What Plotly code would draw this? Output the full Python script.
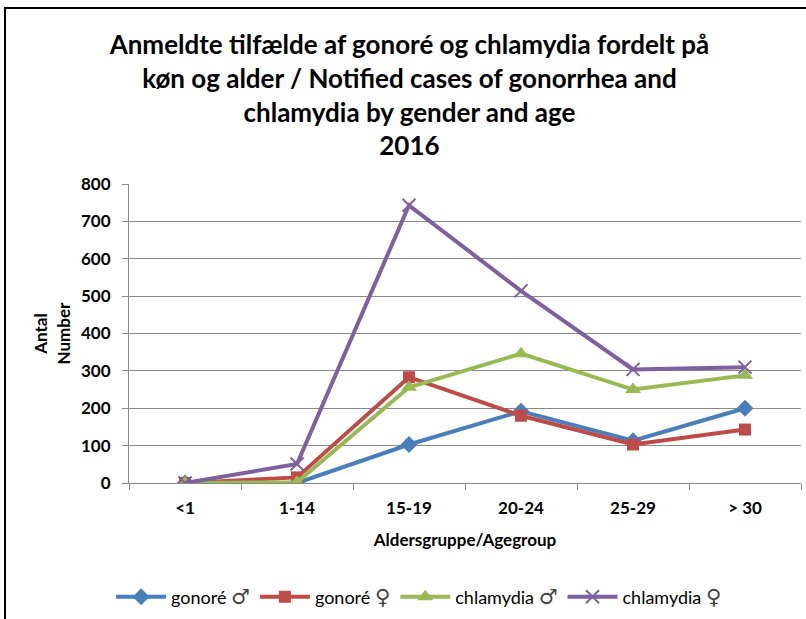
import plotly.graph_objects as go

categories = ["<1", "1-14", "15-19", "20-24", "25-29", "> 30"]
gonore_m = [0, 0, 103, 192, 113, 200]
gonore_f = [0, 15, 283, 180, 103, 143]
chlam_m = [0, 2, 256, 346, 250, 288]
chlam_f = [0, 51, 743, 514, 304, 310]
y_ticks = [0, 100, 200, 300, 400, 500, 600, 700, 800]

SYM = '<span style="font-family:DejaVu Sans;font-size:21px;color:#444">{}</span>'
series = [
    ("gonoré " + SYM.format("♂"), gonore_m, "#4A7EBB", "diamond", 13),
    ("gonoré " + SYM.format("♀"), gonore_f, "#BE4B48", "square", 12),
    ("chlamydia " + SYM.format("♂"), chlam_m, "#98B954", "triangle-up", 14),
    ("chlamydia " + SYM.format("♀"), chlam_f, "#7D60A0", "x-thin", 13),
]

fig = go.Figure()
for name, vals, col, sym, sz in series:
    fig.add_trace(go.Scatter(
        x=categories, y=vals, name=name, mode="lines+markers",
        line=dict(color=col, width=4),
        marker=dict(symbol=sym, size=sz, color=col,
                    line=dict(color=col, width=2 if sym == "x-thin" else 0)),
    ))

W, H = 806, 619
L, R, T, B = 129, 5, 184, 136
pw, ph = W - L - R, H - T - B

def px_to_paper_x(px):
    return (px - L) / pw

def px_to_paper_y(py):
    return (H - B - py) / ph

fig.add_shape(type="rect", xref="paper", yref="paper",
              x0=px_to_paper_x(5), x1=px_to_paper_x(820),
              y0=px_to_paper_y(640), y1=px_to_paper_y(8),
              line=dict(color="black", width=2), layer="below")

fig.update_layout(
    width=W, height=H,
    margin=dict(l=L, r=R, t=T, b=B),
    paper_bgcolor="white", plot_bgcolor="white",
    font=dict(family="Lato, Open Sans, sans-serif", color="black"),
    title=dict(
        text="Anmeldte tilfælde af gonoré og chlamydia fordelt på<br>køn og alder / Notified cases of gonorrhea and<br>chlamydia by gender and age<br>2016",
        x=0.508, xanchor="center", xref="container",
        y=1 - 54 / H, yanchor="middle", yref="container",
        font=dict(size=26, family="Lato, sans-serif", weight="bold"),
    ),
    xaxis=dict(
        type="category", range=[-0.5, 5.5],
        showline=True, linecolor="#888888", linewidth=1,
        ticks="outside", tickson="boundaries", ticklen=6, tickcolor="#888888",
        showgrid=False, ticklabelstandoff=10,
        tickfont=dict(size=17, weight="bold"),
        title=dict(text="Aldersgruppe/Agegroup", font=dict(size=17, weight="bold"), standoff=16),
    ),
    yaxis=dict(
        range=[0, 800], tickvals=y_ticks,
        showline=True, linecolor="#888888", linewidth=1,
        ticks="outside", ticklen=6, tickcolor="#888888",
        showgrid=True, gridcolor="#888888", gridwidth=1,
        zeroline=False, ticklabelstandoff=8,
        tickfont=dict(size=17, weight="bold"),
        title=dict(text="Antal<br>Number", font=dict(size=17, weight="bold"), standoff=6),
    ),
    legend=dict(
        orientation="h", xref="container", yref="container",
        x=0.52, xanchor="center", y=1 - 597 / H, yanchor="middle",
        font=dict(size=18), itemwidth=50,
    ),
    showlegend=True,
)

fig.write_html("out.html", config={"displayModeBar": False},
               post_script="document.body.style.margin='0px';")
